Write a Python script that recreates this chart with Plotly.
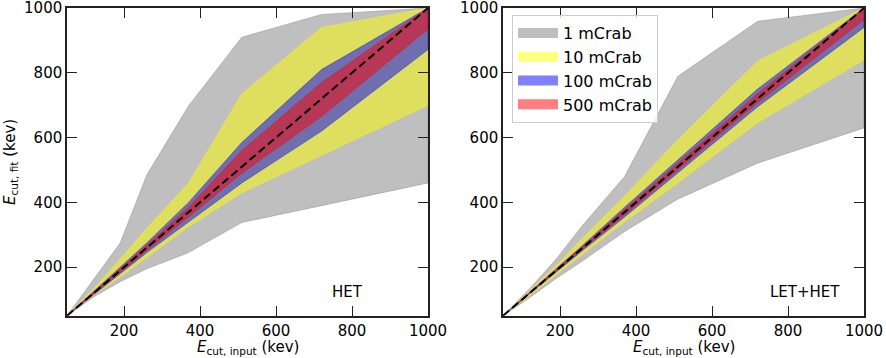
import plotly.graph_objects as go
from plotly.subplots import make_subplots

# ---- data ----
x_in = [50, 125, 190, 260, 370, 510, 720, 1000]

het_1_hi = [50, 170, 275, 485, 698, 910, 980, 1000]
het_1_lo = [50, 112, 155, 195, 245, 338, 390, 460]
het_10_hi = [50, 140, 225, 320, 460, 735, 940, 1000]
het_10_lo = [50, 118, 170, 230, 325, 430, 545, 700]
het_100_hi = [50, 130, 200, 275, 400, 585, 810, 1000]
het_100_lo = [50, 120, 180, 245, 340, 460, 620, 872]
het_500_hi = [50, 127, 195, 268, 385, 560, 770, 1000]
het_500_lo = [50, 123, 185, 252, 355, 490, 665, 935]

lh_1_hi = [50, 140, 225, 330, 480, 789, 959, 1000]
lh_1_lo = [50, 110, 165, 220, 310, 410, 521, 630]
lh_10_hi = [50, 132, 205, 290, 420, 593, 836, 1000]
lh_10_lo = [50, 118, 178, 240, 340, 460, 646, 840]
lh_100_hi = [50, 127, 194, 268, 385, 530, 750, 1000]
lh_100_lo = [50, 123, 186, 252, 355, 490, 695, 940]
lh_500_hi = [50, 126, 192, 264, 378, 520, 735, 1000]
lh_500_lo = [50, 124, 188, 256, 362, 500, 708, 964]

labels = ["1 mCrab", "10 mCrab", "100 mCrab", "500 mCrab"]
colors = ["rgba(128,128,128,0.5)", "rgba(255,255,0,0.5)",
          "rgba(0,0,255,0.5)", "rgba(255,0,0,0.5)"]
ticks = [200, 400, 600, 800, 1000]

panels = [
    [(het_1_hi, het_1_lo), (het_10_hi, het_10_lo), (het_100_hi, het_100_lo), (het_500_hi, het_500_lo)],
    [(lh_1_hi, lh_1_lo), (lh_10_hi, lh_10_lo), (lh_100_hi, lh_100_lo), (lh_500_hi, lh_500_lo)],
]
panel_names = ["HET", "LET+HET"]

FONT = "DejaVu Sans"
W, H = 886, 358


def px(X):
    return X / W


def py(Y):
    return 1 - Y / H


fig = make_subplots(rows=1, cols=2)

for p, bands in enumerate(panels):
    col = p + 1
    for i, (hi, lo) in enumerate(bands):
        fig.add_trace(go.Scatter(
            x=x_in + x_in[::-1], y=hi + lo[::-1],
            fill="toself", fillcolor=colors[i],
            line=dict(color=colors[i], width=0.8),
            mode="lines", name=labels[i],
            showlegend=False, hoverinfo="skip"), row=1, col=col)
    fig.add_trace(go.Scatter(
        x=[x_in[0], x_in[-1]], y=[x_in[0], x_in[-1]], mode="lines",
        line=dict(color="black", width=2, dash="8px,4px"),
        showlegend=False), row=1, col=col)

# legend-only entries (rectangular swatches)
for i in range(4):
    fig.add_trace(go.Scatter(x=[None], y=[None], mode="lines", name=labels[i],
                             line=dict(color=colors[i], width=12),
                             showlegend=True), row=1, col=2)

axis_common = dict(range=[50, 1000], tickvals=ticks, ticks="inside", ticklen=10,
                   tickwidth=1.2, tickcolor="#222", showline=True, linecolor="#222",
                   linewidth=1.5, mirror="ticks", showgrid=False, zeroline=False,
                   ticklabeloverflow="allow", automargin=False,
                   tickfont=dict(family=FONT, size=15, color="black"))

fig.update_layout(
    xaxis=dict(domain=[px(67), px(428)], **axis_common),
    xaxis2=dict(domain=[px(503), px(864)], **axis_common),
    yaxis=dict(domain=[py(315.8), py(8)], **axis_common),
    yaxis2=dict(domain=[py(315.8), py(8)], **axis_common),
    width=W, height=H, autosize=False,
    margin=dict(l=0, r=0, t=0, b=0, autoexpand=False),
    paper_bgcolor="white", plot_bgcolor="white",
    font=dict(family=FONT, size=15, color="black"),
    legend=dict(x=px(512), y=py(15), xanchor="left", yanchor="top",
                bgcolor="rgba(255,255,255,0.8)", bordercolor="#ccc", borderwidth=1,
                font=dict(family=FONT, size=16), tracegroupgap=0, itemwidth=40),
)

# axis titles
xt = "<i>E</i><sub>cut, input</sub> (kev)"
yt = "<i>E</i><sub>cut, fit</sub> (kev)"
for cx in [247.5, 683.5]:
    fig.add_annotation(x=px(cx), y=py(347), xref="paper", yref="paper", text=xt,
                       showarrow=False, xanchor="center", yanchor="middle",
                       font=dict(family=FONT, size=15, color="black"))
fig.add_annotation(x=px(10), y=py(162), xref="paper", yref="paper", text=yt,
                   textangle=-90, showarrow=False, xanchor="center", yanchor="middle",
                   font=dict(family=FONT, size=15, color="black"))

for p, name in enumerate(panel_names):
    fig.add_annotation(x=[789, 844][p], y=122, text=name, showarrow=False,
                       xref=f"x{'' if p == 0 else 2}", yref=f"y{'' if p == 0 else 2}",
                       font=dict(family=FONT, size=15, color="black"))

fig.write_html("out.html", config={"displayModeBar": False},
               post_script="document.body.style.margin='0';document.body.style.overflow='hidden';")
